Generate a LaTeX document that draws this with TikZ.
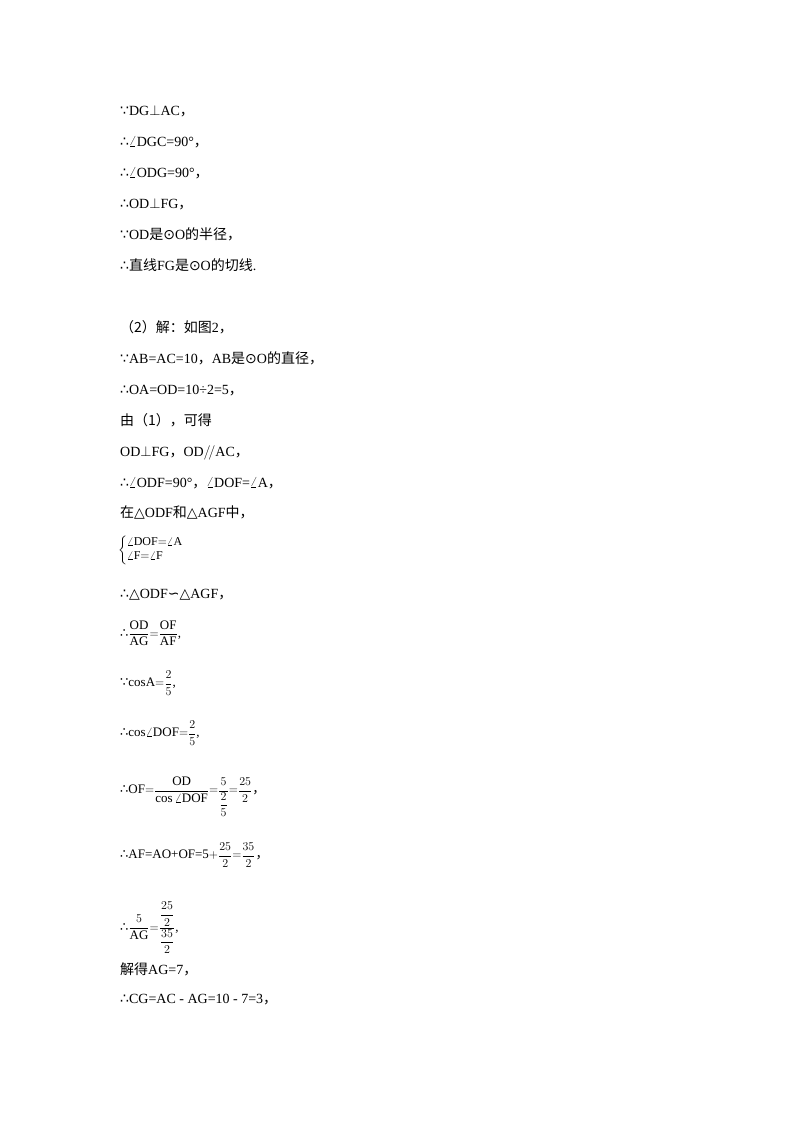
\documentclass[tikz,border=0pt]{standalone}
\usepackage{amsmath}
\usepackage{fontspec}
\setmainfont{Liberation Serif}
\newfontfamily\cjk{Noto Sans CJK SC}
\newfontfamily\sym{DejaVu Sans}
\newcommand{\bec}{{\sym ∵}}
\newcommand{\thf}{{\sym ∴}}
\newcommand{\zh}[1]{{\cjk #1}}
\begin{document}
\begin{tikzpicture}[x=1pt,y=-1pt,txt/.style={anchor=base west,inner sep=0pt,font=\fontsize{14}{16}\selectfont},
 mth/.style={anchor=west,inner sep=0pt,font=\fontsize{13}{15}\selectfont}]
\useasboundingbox (0,0) rectangle (800,1132);
\node[txt] (l1) at (120,115) {\bec DG$\perp$AC\zh{，}};
\node[txt] (l2) at (120,146) {\thf$\angle$DGC=90°\zh{，}};
\node[txt] (l3) at (120,177) {\thf$\angle$ODG=90°\zh{，}};
\node[txt] (l4) at (120,208) {\thf OD$\perp$FG\zh{，}};
\node[txt] (l5) at (120,239) {\bec OD\zh{是}{\sym ⊙}O\zh{的半径，}};
\node[txt] (l6) at (120,270) {\thf\zh{直线}FG\zh{是}{\sym ⊙}O\zh{的切线}.};
\node[txt] (l7) at (120,332) {\zh{（2）解：如图}2\zh{，}};
\node[txt] (l8) at (120,363) {\bec AB=AC=10\zh{，}AB\zh{是}{\sym ⊙}O\zh{的直径，}};
\node[txt] (l9) at (120,394) {\thf OA=OD=10÷2=5\zh{，}};
\node[txt] (l10) at (120,425) {\zh{由（1），可得}};
\node[txt] (l11) at (120,456) {OD$\perp$FG\zh{，}OD$/\!/$AC\zh{，}};
\node[txt] (l12) at (120,487) {\thf$\angle$ODF=90°\zh{，}$\angle$DOF=$\angle$A\zh{，}};
\node[txt] (l13) at (120,517) {\zh{在}{\sym △}ODF\zh{和}{\sym △}AGF\zh{中，}};
\node[anchor=west,inner sep=0pt,font=\fontsize{12}{14}\selectfont] (l14) at (118,550)
  {$\left\{\begin{array}{@{}l}\angle\mathrm{DOF}{=}\angle\mathrm{A}\\ \angle\mathrm{F}{=}\angle\mathrm{F}\end{array}\right.$};
\node[txt] (l15) at (120,598) {\thf{\sym △}ODF{\sym ∽}{\sym △}AGF\zh{，}};
\node[mth] (l16) at (120,633) {\thf$\dfrac{\mathrm{OD}}{\mathrm{AG}}{=}\dfrac{\mathrm{OF}}{\mathrm{AF}}$,};
\node[mth] (l17) at (120,683) {\bec cosA${=}\dfrac{2}{5}$,};
\node[mth] (l18) at (120,733) {\thf cos$\angle$DOF${=}\dfrac{2}{5}$,};
\node[mth] (l19) at (120,797) {\thf OF${=}\dfrac{\mathrm{OD}}{\cos\angle\mathrm{DOF}}{=}\dfrac{5}{\dfrac{2}{5}}{=}\dfrac{25}{2}$\zh{，}};
\node[mth] (l20) at (120,855) {\thf AF=AO+OF=5${+}\dfrac{25}{2}{=}\dfrac{35}{2}$\zh{，}};
\node[mth] (l21) at (120,928) {\thf$\dfrac{5}{\mathrm{AG}}{=}\dfrac{\dfrac{25}{2}}{\dfrac{35}{2}}$,};
\node[txt] (l22) at (120,974) {\zh{解得}AG=7\zh{，}};
\node[txt] (l23) at (120,1003) {\thf CG=AC - AG=10 - 7=3\zh{，}};
\end{tikzpicture}
\end{document}
